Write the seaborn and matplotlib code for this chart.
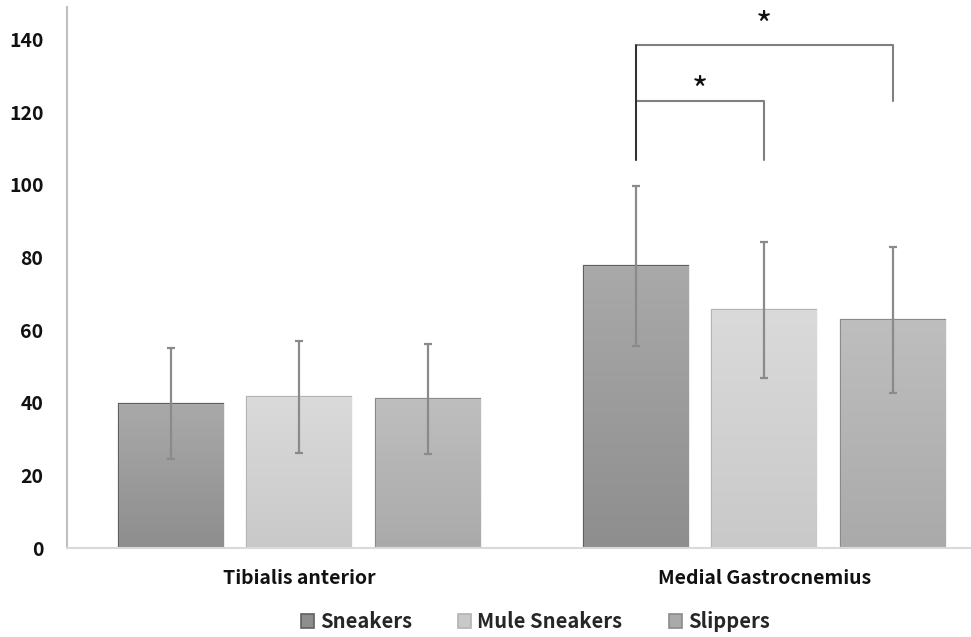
import matplotlib
matplotlib.use('Agg')
import matplotlib.pyplot as plt
import matplotlib.patches as mpatches
import numpy as np
import pandas as pd
import seaborn as sns

muscles = ['Tibialis anterior', 'Medial Gastrocnemius']
shoes = ['Sneakers', 'Mule Sneakers', 'Slippers']
means_ta = [39.8, 41.6, 41.0]
means_mg = [77.6, 65.6, 62.8]
sd_ta = [15.2, 15.4, 15.2]
sd_mg = [22.0, 18.7, 20.0]

sns.set_style('white')
plt.rcParams['font.family'] = ['Noto Sans CJK KR', 'DejaVu Sans']

df = pd.DataFrame({
    'muscle': np.repeat(muscles, len(shoes)),
    'shoe': shoes * len(muscles),
    'mean': means_ta + means_mg,
    'sd': sd_ta + sd_mg,
})

fills = {'Sneakers': ('#a9a9a9', '#8e8e8e', '#606060'),
         'Mule Sneakers': ('#dadada', '#c9c9c9', '#b3b3b3'),
         'Slippers': ('#bebebe', '#aaaaaa', '#8a8a8a')}

fig = plt.figure(figsize=(9.71, 6.37), dpi=100)
ax = fig.add_axes([0.069, 0.1397, 0.931, 0.8493])

sns.barplot(data=df, x='muscle', y='mean', hue='shoe', hue_order=shoes,
            order=muscles, width=0.83, gap=0.19, errorbar=None,
            palette={k: v[1] for k, v in fills.items()}, ax=ax, legend=False)

# gradient fill + edge, then SD error bars
centers = {}
for i, shoe in enumerate(shoes):
    top, bot, edge = fills[shoe]
    cont = ax.containers[i]
    for j, bar in enumerate(cont):
        x0, w, h = bar.get_x(), bar.get_width(), bar.get_height()
        bar.set_edgecolor(edge)
        bar.set_linewidth(1.6)
        grad = np.linspace(0, 1, 100).reshape(-1, 1)
        cmap = matplotlib.colors.LinearSegmentedColormap.from_list('g', [bot, top])
        im = ax.imshow(grad, extent=[x0, x0 + w, 0, h], origin='lower', aspect='auto',
                       cmap=cmap, zorder=bar.get_zorder())
        im.set_clip_path(bar)
        row = df[(df.shoe == shoe) & (df.muscle == muscles[j])].iloc[0]
        cx = x0 + w / 2
        centers[(shoe, muscles[j])] = cx
        ax.errorbar(cx, row['mean'], yerr=row['sd'], fmt='none', ecolor='#8a8a8a',
                    elinewidth=1.6, capsize=3, capthick=1.6, zorder=5)

ax.set_xlim(-0.5, 1.445)
ax.set_ylim(0, 149)
ax.set_yticks(range(0, 141, 20))
ax.set_xlabel('')
ax.set_ylabel('')
ax.tick_params(axis='both', length=0, labelsize=14, colors='#111111')
for lab in ax.get_xticklabels() + ax.get_yticklabels():
    lab.set_fontweight('bold')
ax.tick_params(axis='y', pad=17)
ax.tick_params(axis='x', pad=15)
for s in ['top', 'right']:
    ax.spines[s].set_visible(False)
ax.spines['left'].set_color('#bfbfbf')
ax.spines['left'].set_linewidth(1.5)
ax.spines['bottom'].set_color('#d9d9d9')
ax.spines['bottom'].set_linewidth(1.5)

# significance brackets
m = muscles[1]
xs, xm, xl = centers[('Sneakers', m)], centers[('Mule Sneakers', m)], centers[('Slippers', m)]
ax.plot([xs, xs, xl, xl], [107, 138.6, 138.6, 123], color='#7f7f7f', lw=1.5, zorder=6)
ax.plot([xs, xs], [107, 138.6], color='#222222', lw=1.2, zorder=7)
ax.plot([xs, xm, xm], [123, 123, 107], color='#7f7f7f', lw=1.5, zorder=6)
ax.text((xs + xl) / 2, 143.5, '*', ha='center', va='center', fontsize=25, color='#111111')
ax.text((xs + xm) / 2, 125.5, '*', ha='center', va='center', fontsize=25, color='#111111')

handles = [mpatches.Patch(facecolor=fills[s][1], edgecolor=fills[s][2], lw=1.2, label=s)
           for s in shoes]
leg = fig.legend(handles=handles, loc='center', bbox_to_anchor=(0.551, 0.024), ncol=3,
                 frameon=False, handlelength=0.65, handleheight=0.65, handletextpad=0.3,
                 columnspacing=2.3, prop={'weight': 'bold', 'size': 14.5})

fig.savefig('out.png', dpi=100)
